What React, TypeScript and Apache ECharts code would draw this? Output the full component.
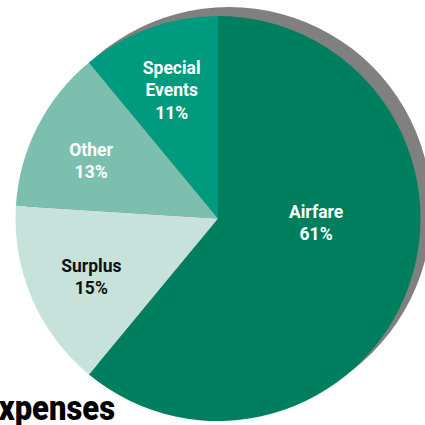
import React, { useEffect, useRef } from "react";
import * as echarts from "echarts";

const categories = ["Airfare", "Surplus", "Other", "Special Events"];
const values = [61, 15, 13, 11];
const colors = ["#007f5f", "#c6e2da", "#7dbfae", "#009a7e"];
const labelColors = ["#ffffff", "#111111", "#ffffff", "#ffffff"];
const labelShift = [
  [0, -31],
  [-31, 17],
  [-34, -10],
  [-11, -30],
];
const titleText = "Expenses";

const FONT = 'Roboto, "DejaVu Sans Condensed", sans-serif';

export default function App() {
  const ref = useRef<HTMLDivElement>(null);
  useEffect(() => {
    if (!ref.current) return;
    const chart = echarts.init(ref.current, undefined, { renderer: "svg" });
    chart.setOption({
      animation: false,
      backgroundColor: "#ffffff",
      graphic: [
        {
          type: "text",
          x: 115,
          y: 408,
          z: 10,
          scaleX: 0.86,
          style: {
            text: titleText,
            align: "right",
            verticalAlign: "middle",
            fontFamily: FONT,
            fontWeight: 900,
            fontSize: 36,
            fill: "#000000",
          },
        },
      ],
      series: [
        {
          type: "pie",
          silent: true,
          center: [229, 209.5],
          radius: 202.5,
          startAngle: 90,
          label: { show: false },
          labelLine: { show: false },
          itemStyle: { color: "#808080", borderWidth: 0 },
          data: [{ name: "shadow", value: 1 }],
          z: 1,
        },
        {
          type: "pie",
          silent: true,
          center: [218, 218.5],
          radius: 202.5,
          startAngle: 90,
          clockwise: true,
          z: 2,
          itemStyle: { borderWidth: 0 },
          labelLine: { show: false },
          label: {
            show: true,
            position: "inside",
            fontFamily: FONT,
            fontWeight: "bold",
            fontSize: 17.5,
            lineHeight: 22.5,
            align: "center",
            formatter: (p: any) => `${String(p.name).replace(" ", "\n")}\n${p.percent}%`,
          },
          labelLayout: (p: any) => ({
            dx: labelShift[p.dataIndex][0],
            dy: labelShift[p.dataIndex][1],
          }),
          data: categories.map((c, i) => ({
            name: c,
            value: values[i],
            itemStyle: { color: colors[i] },
            label: { color: labelColors[i] },
          })),
        },
      ],
    });
    return () => chart.dispose();
  }, []);
  return (
    <div
      ref={ref}
      style={{ position: "fixed", left: 0, top: 0, width: 425, height: 425, overflow: "hidden" }}
    />
  );
}
